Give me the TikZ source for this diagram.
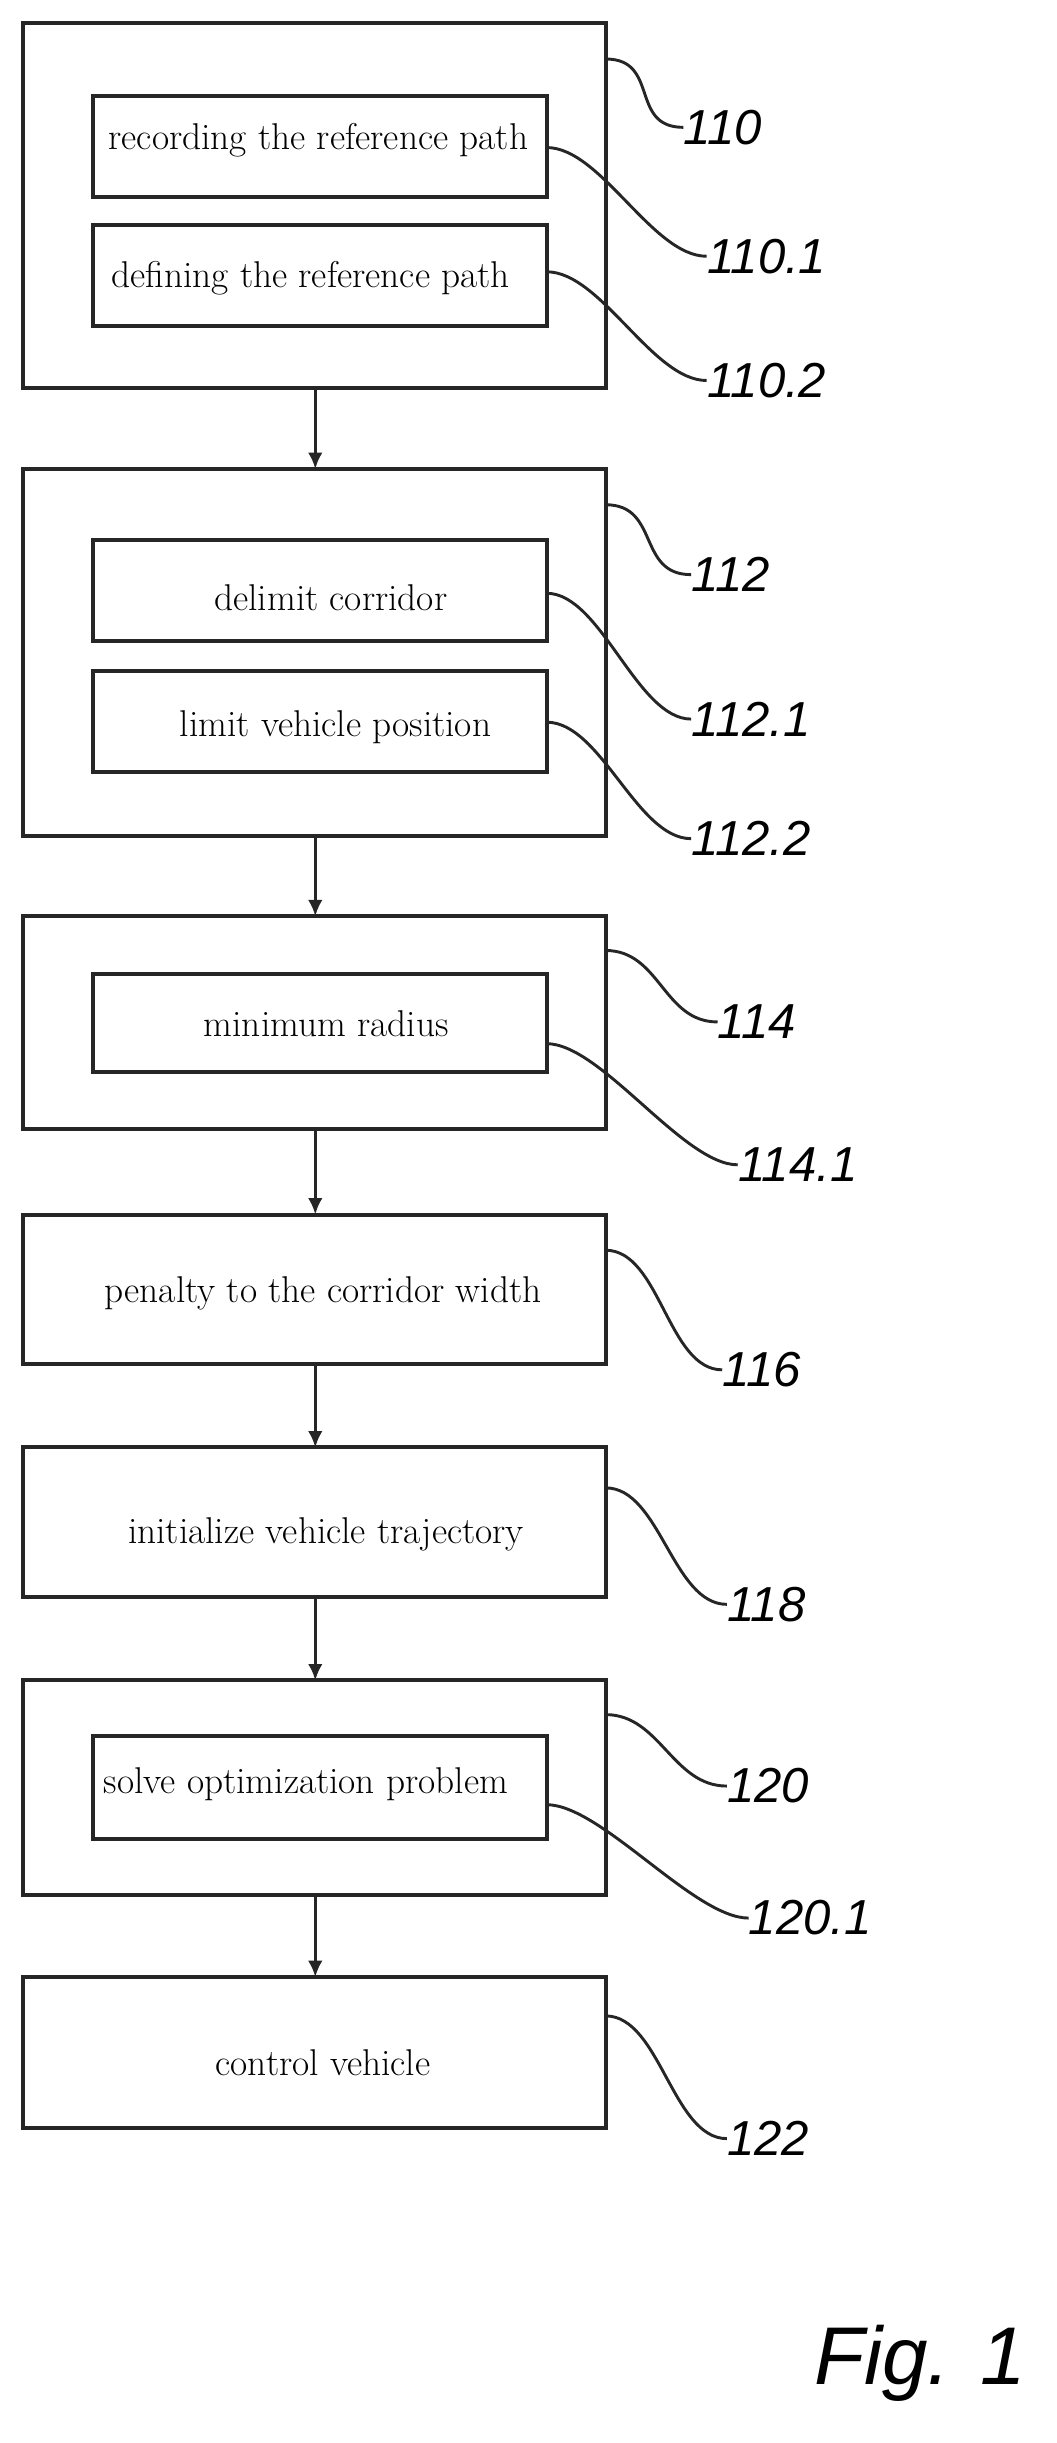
\documentclass[tikz,border=0pt]{standalone}
\usepackage{fontspec}
\newfontfamily\lab{Liberation Sans}
\usetikzlibrary{arrows.meta}
\begin{document}
\begin{tikzpicture}[x=0.03cm,y=-0.03cm,
 box/.style={draw=black!85,line width=2.2pt,inner sep=0pt},
 txt/.style={font=\fontsize{20.5}{24}\selectfont},
 lb/.style={font=\lab\itshape\fontsize{27}{29}\selectfont,anchor=west,inner sep=0pt},
 ld/.style={draw=black!85,line width=1.6pt},
 ar/.style={draw=black!85,line width=1.6pt,-{Latex[length=9pt,width=8pt]}}]
\useasboundingbox (0,0) rectangle (680,1573);
% outer boxes
\draw[box] (15,15) rectangle (390,250);
\draw[box] (15,302) rectangle (390,538);
\draw[box] (15,590) rectangle (390,727);
\draw[box] (15,782) rectangle (390,878);
\draw[box] (15,932) rectangle (390,1028);
\draw[box] (15,1082) rectangle (390,1220);
\draw[box] (15,1273) rectangle (390,1370);
% inner boxes
\draw[box] (60,62) rectangle (352,127); \node[txt] (t1) at (205,90) {recording the reference path};
\draw[box] (60,145) rectangle (352,210); \node[txt] (t2) at (200,179) {defining the reference path};
\draw[box] (60,348) rectangle (352,413); \node[txt] (t3) at (213,385) {delimit corridor};
\draw[box] (60,432) rectangle (352,497); \node[txt] (t4) at (216,468) {limit vehicle position};
\draw[box] (60,627) rectangle (352,690); \node[txt] (t5) at (210,659) {minimum radius};
\node[txt] (t6) at (208,833) {penalty to the corridor width};
\node[txt] (t7) at (210,988) {initialize vehicle trajectory};
\draw[box] (60,1118) rectangle (352,1184); \node[txt] (t8) at (197,1149) {solve optimization problem};
\node[txt] (t9) at (208,1328) {control vehicle};
% arrows
\foreach \a/\b in {250/302,538/590,727/782,878/932,1028/1082,1220/1273}
  \draw[ar] (203,\a) -- (203,\b);
% labels and leaders
\foreach \n/\sx/\sy/\lx/\ly/\t in {a/390/38/440/82/110, b/352/95/455/165/110.1, c/352/175/455/245/110.2,
  d/390/325/445/370/112, e/352/382/445/463/112.1, f/352/465/445/540/112.2,
  g/390/612/462/658/114, h/352/672/475/750/114.1, i/390/805/465/882/116, j/390/958/468/1033/118,
  k/390/1104/468/1150/120, l/352/1162/482/1235/120.1, m/390/1298/468/1377/122}{
  \node[lb] (L\n) at (\lx,\ly) {\t};
  \draw[ld] (\sx,\sy) .. controls (\sx+35,\sy) and (\lx-35,\ly) .. (L\n.west);
}
\node[font=\lab\itshape\fontsize{45}{47}\selectfont,anchor=west] (fig) at (520,1522) {Fig. 1};
\end{tikzpicture}
\end{document}
